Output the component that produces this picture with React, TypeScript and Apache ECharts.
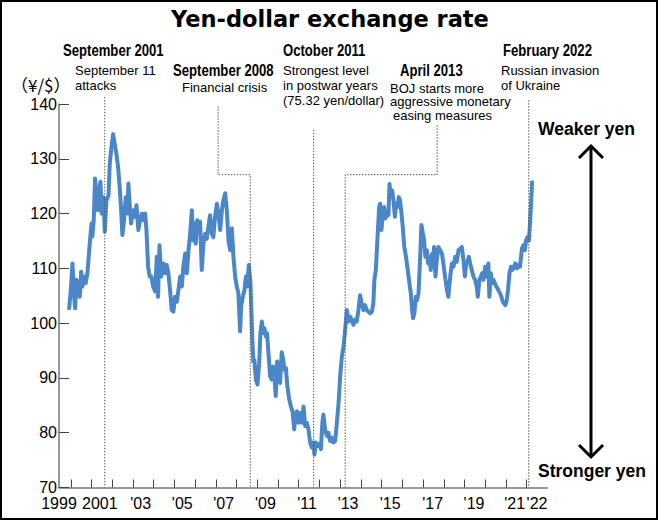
import React, { useEffect, useRef } from "react";
import * as echarts from "echarts";

// ---- Data ----
const years: number[] = [
  1999.92, 2000.0, 2000.08, 2000.16, 2000.21, 2000.27, 2000.35, 2000.43, 2000.5, 2000.56, 2000.64, 2000.72, 2000.8, 2000.85, 2000.93,
  2001.0, 2001.04, 2001.11, 2001.17, 2001.24, 2001.3, 2001.37, 2001.43, 2001.49, 2001.57, 2001.64, 2001.72, 2001.82, 2001.88, 2001.96,
  2002.04, 2002.12, 2002.2, 2002.28, 2002.36, 2002.43, 2002.49, 2002.57, 2002.65, 2002.73, 2002.78, 2002.85, 2002.91,
  2003.01, 2003.09, 2003.17, 2003.26, 2003.34, 2003.43, 2003.51, 2003.59, 2003.65, 2003.73, 2003.81, 2003.89, 2003.97,
  2004.07, 2004.15, 2004.21, 2004.28, 2004.36, 2004.47, 2004.55, 2004.63, 2004.71, 2004.79, 2004.87, 2004.95,
  2005.03, 2005.12, 2005.19, 2005.28, 2005.36, 2005.43, 2005.52, 2005.6, 2005.68, 2005.76, 2005.84, 2005.9, 2005.97,
  2006.03, 2006.1, 2006.16, 2006.24, 2006.32, 2006.4, 2006.48, 2006.56, 2006.64, 2006.72, 2006.81, 2006.88, 2006.96,
  2007.05, 2007.12, 2007.21, 2007.29, 2007.36, 2007.45, 2007.53, 2007.61, 2007.69, 2007.77, 2007.85, 2007.93,
  2008.01, 2008.09, 2008.17, 2008.22, 2008.3, 2008.38, 2008.45, 2008.51, 2008.59, 2008.67, 2008.7, 2008.76, 2008.81, 2008.86, 2008.93,
  2009.01, 2009.09, 2009.15, 2009.22, 2009.28, 2009.34, 2009.41, 2009.47, 2009.54, 2009.62, 2009.7, 2009.76, 2009.83, 2009.89, 2009.96,
  2010.02, 2010.1, 2010.18, 2010.25, 2010.31, 2010.38, 2010.45, 2010.54, 2010.62, 2010.7, 2010.78, 2010.83, 2010.91, 2010.98,
  2011.07, 2011.15, 2011.23, 2011.31, 2011.39, 2011.47, 2011.55, 2011.63, 2011.71, 2011.76, 2011.82, 2011.9, 2011.98,
  2012.07, 2012.14, 2012.19, 2012.27, 2012.36, 2012.43, 2012.51, 2012.6, 2012.67, 2012.76, 2012.84, 2012.92,
  2013.0, 2013.08, 2013.16, 2013.24, 2013.32, 2013.4, 2013.48, 2013.56, 2013.64, 2013.72, 2013.8, 2013.88, 2013.96,
  2014.04, 2014.12, 2014.2, 2014.28, 2014.36, 2014.45, 2014.53, 2014.6, 2014.65, 2014.72, 2014.77, 2014.82, 2014.88, 2014.93, 2014.99,
  2015.06, 2015.12, 2015.18, 2015.27, 2015.33, 2015.38, 2015.44, 2015.51, 2015.57, 2015.64, 2015.7, 2015.76, 2015.83, 2015.89, 2015.96,
  2016.02, 2016.09, 2016.15, 2016.22, 2016.28, 2016.34, 2016.41, 2016.47, 2016.52, 2016.58, 2016.65, 2016.71, 2016.78, 2016.86, 2016.92, 2016.99,
  2017.05, 2017.11, 2017.18, 2017.24, 2017.31, 2017.37, 2017.44, 2017.5, 2017.53, 2017.6, 2017.66, 2017.74, 2017.82, 2017.91, 2017.98,
  2018.06, 2018.15, 2018.22, 2018.31, 2018.39, 2018.47, 2018.55, 2018.63, 2018.71, 2018.79, 2018.87, 2018.95,
  2019.02, 2019.08, 2019.14, 2019.21, 2019.27, 2019.35, 2019.43, 2019.51, 2019.59, 2019.64, 2019.72, 2019.79, 2019.85, 2019.91,
  2020.0, 2020.04, 2020.11, 2020.15, 2020.2, 2020.27, 2020.33, 2020.4, 2020.46, 2020.53, 2020.59, 2020.66, 2020.72, 2020.78, 2020.85, 2020.91, 2020.97,
  2021.04, 2021.1, 2021.17, 2021.24, 2021.3, 2021.36, 2021.45, 2021.53, 2021.6, 2021.68, 2021.77, 2021.84, 2021.91, 2021.97,
  2022.04, 2022.11, 2022.17, 2022.22, 2022.26,
];

const rates: number[] = [
  102.7, 106, 110.9, 104.8, 102.7, 107.9, 106.7, 104.8, 109.4, 106.7, 108.5, 107.3, 109.1, 111.5, 115.2,
  118.2, 115.8, 119.1, 126.4, 123, 120.6, 124.2, 125.8, 120, 123, 116.7, 122.4, 123.3, 129.1, 132.1,
  134.5, 132.7, 130.9, 128.5, 124.8, 120.6, 116.1, 118.8, 123, 120, 125.5, 121.2, 118.2,
  120.6, 119.4, 121.5, 117, 118.8, 120, 118.8, 120, 117, 110.3, 108.5, 108.5, 106.7,
  105.8, 112.1, 104.8, 114.2, 108.5, 110.9, 109.1, 110.6, 109.1, 106.0, 102.4, 102.1,
  104.8, 103.9, 106.0, 108.5, 106.7, 110.3, 112.7, 109.1, 113.3, 116.3, 120.6, 115.1, 118.2,
  114.5, 118.8, 117, 118.5, 109.7, 114.5, 116.3, 115.4, 117.6, 119.7, 116.3, 115.7, 119.4,
  121.8, 120, 117, 120.6, 122.4, 123.7, 120.6, 115.1, 113.3, 117.3, 112.1, 108.5,
  106.7, 105.4, 98.5, 103, 104.8, 106, 108.5, 106.7, 110.6, 107.3, 104, 97, 93, 93.3, 89.7,
  88.8, 92.7, 98.2, 100.3, 98.2, 99.1, 97.6, 98.2, 94.5, 90.3, 89.7, 92.1, 90, 86.7, 93,
  89.7, 89.1, 94.7, 93.3, 91.5, 91.8, 88.5, 86.1, 84.8, 83.9, 80.6, 83, 83.9, 81.8,
  83.6, 81.8, 84.8, 81.2, 81.8, 80.6, 78.2, 77.3, 78.2, 76.0, 78.2, 77.6, 77.9,
  77, 81.8, 83.3, 80.6, 79.4, 80, 78.5, 79.1, 78.2, 78.5, 81.8, 85.4,
  90.3, 93.9, 95.7, 98.8, 102.4, 100.3, 101.2, 100.6, 99.7, 100.6, 100.3, 102.4, 105.1,
  103.6, 102.4, 103.3, 102.4, 102.1, 101.8, 102.1, 103.6, 107.9, 109.7, 113.3, 117, 121.2, 121.8, 117,
  120, 121.2, 119.1, 120, 119.7, 125.4, 123, 124.2, 122.4, 119.4, 121.8, 121.2, 123, 122.4, 120,
  117.6, 114, 112.7, 110.9, 109.1, 107.3, 105.4, 102.4, 100.9, 101.8, 104.8, 104.2, 105.4, 112.1, 117.9, 116.4,
  115.1, 112.1, 113.3, 110.9, 112.1, 109.7, 112.7, 110.9, 113.9, 108.5, 111.5, 113.9, 113.3, 112.7, 110.9,
  108.5, 106.1, 104.8, 108.5, 110.9, 110.3, 112.1, 111.2, 113.3, 113.6, 113.9, 111.5,
  108.5, 110.9, 111.2, 112.1, 110.9, 109.7, 108.5, 107.9, 106.7, 104.8, 107.9, 108.5, 109.1, 107.9,
  110.3, 108.5, 109.7, 110.9, 104.8, 109.1, 107.3, 107.9, 107.3, 106.7, 106.4, 105.8, 105.4, 104.8, 103.9, 103.6, 103.3,
  104.2, 106.1, 109.1, 110.3, 109.7, 110, 110.9, 110, 110.6, 110.3, 113.6, 114.2, 113.3, 115.1,
  115.7, 115.1, 118.8, 122.4, 125.7,
];

const yTicks = [70, 80, 90, 100, 110, 120, 130, 140];
const xTickYears = [
  2000, 2001, 2002, 2003, 2004, 2005, 2006, 2007, 2008, 2009, 2010, 2011,
  2012, 2013, 2014, 2015, 2016, 2017, 2018, 2019, 2020, 2021, 2022,
];
const xLabelPos = [1999.43, 2001.4, 2003.37, 2005.38, 2007.38, 2009.39, 2011.4, 2013.38, 2015.41, 2017.46, 2019.46, 2021.42, 2022.5];
const xLabelText = ["1999", "2001", "'03", "'05", "'07", "'09", "'11", "'13", "'15", "'17", "'19", "'21", "'22"];

// Event markers (year position, top value of dotted guide)
const eventSept2001 = [[2001.64, 141.3], [2001.64, 70]];
const eventSept2008 = [[2007.11, 139.6], [2007.11, 127.1], [2008.66, 127.1], [2008.66, 70]];
const eventOct2011 = [[2011.72, 135.3], [2011.72, 70]];
const eventApr2013 = [[2017.68, 136.1], [2017.68, 127.1], [2013.24, 127.1], [2013.24, 70]];
const eventFeb2022 = [[2022.1, 140.7], [2022.1, 70]];

const SANS = "'Liberation Sans', Arial, Helvetica, sans-serif";

function txt(
  text: string,
  x: number,
  y: number,
  size: number,
  bold: boolean,
  family: string,
  align = "left",
  scaleX = 1
) {
  return {
    type: "text",
    x,
    y,
    scaleX,
    silent: true,
    style: {
      text,
      fill: "#000",
      fontSize: size,
      fontWeight: bold ? "bold" : "normal",
      fontFamily: family,
      align,
      verticalAlign: "middle",
    },
  };
}
// narrow bold heading (Arial Narrow look)
const head = (text: string, x: number, y: number) => txt(text, x, y, 16, true, SANS, "left", 0.82);
const note = (text: string, x: number, y: number) => txt(text, x, y, 13, false, SANS, "left", 1);

export default function App() {
  const ref = useRef<HTMLDivElement>(null);

  useEffect(() => {
    if (!ref.current) return;
    const chart = echarts.init(ref.current, null, { renderer: "svg" });

    const lineData = years.map((y, i) => [y, rates[i]]);
    const guide = (data: number[][]) => ({
      type: "line",
      data,
      symbol: "none",
      silent: true,
      clip: false,
      z: 5,
      lineStyle: { color: "#555", width: 1, type: [1.5, 1.5] },
    });

    const option: any = {
      animation: false,
      backgroundColor: "#fff",
      grid: { left: 59, top: 104, width: 488.4, height: 383.5, containLabel: false },
      xAxis: {
        type: "value",
        min: 1999.43,
        max: 2023.0,
        axisLine: { show: true, lineStyle: { color: "#777", width: 1.5 } },
        axisTick: {
          show: true,
          inside: true,
          length: 8,
          customValues: xTickYears,
          lineStyle: { color: "#444", width: 1 },
        },
        axisLabel: {
          show: true,
          customValues: xLabelPos,
          showMinLabel: true,
          showMaxLabel: true,
          hideOverlap: false,
          margin: 7.5,
          lineHeight: 16,
          fontSize: 16,
          fontFamily: SANS,
          color: "#000",
          formatter: (v: number) => {
            let best = 0;
            for (let i = 1; i < xLabelPos.length; i++) {
              if (Math.abs(xLabelPos[i] - v) < Math.abs(xLabelPos[best] - v)) best = i;
            }
            return xLabelText[best];
          },
        },
        splitLine: { show: false },
      },
      yAxis: {
        type: "value",
        min: yTicks[0],
        max: yTicks[yTicks.length - 1],
        interval: 10,
        axisLine: { show: true, lineStyle: { color: "#777", width: 1.5 } },
        axisTick: { show: true, inside: true, length: 10, lineStyle: { color: "#444", width: 1 } },
        axisLabel: { margin: 2, fontSize: 16, lineHeight: 13, fontFamily: SANS, color: "#000" },
        splitLine: { show: false },
      },
      series: [
        {
          type: "line",
          data: lineData,
          symbol: "none",
          silent: true,
          z: 3,
          lineStyle: { color: "#4a86c8", width: 4, join: "round", cap: "round" },
        },
        guide(eventSept2001),
        guide(eventSept2008),
        guide(eventOct2011),
        guide(eventApr2013),
        guide(eventFeb2022),
      ],
      graphic: [
        {
          type: "rect",
          shape: { x: 1, y: 1, width: 656, height: 518 },
          style: { fill: "none", stroke: "#000", lineWidth: 2 },
          silent: true,
          z: 100,
        },
        txt("Yen-dollar exchange rate", 330, 19, 22.5, true, "'DejaVu Sans', sans-serif", "center"),
        head("September 2001", 63, 51),
        note("September 11", 75, 70),
        note("attacks", 75, 85),
        head("September 2008", 173, 71),
        note("Financial crisis", 182, 87),
        head("October 2011", 283, 51),
        note("Strongest level", 283, 70),
        note("in postwar years", 283, 85),
        note("(75.32 yen/dollar)", 283, 100),
        head("April 2013", 400, 71),
        note("BOJ starts more", 390, 88),
        note("aggressive monetary", 390, 101.5),
        note("easing measures", 393, 115),
        head("February 2022", 503, 51),
        note("Russian invasion", 501, 70),
        note("of Ukraine", 501, 85),
        txt("（¥/$）", 11, 84, 17, false, "'Noto Sans CJK JP', sans-serif"),
        txt("Weaker yen", 538, 129, 17.5, true, SANS),
        txt("Stronger yen", 538, 471, 17.5, true, SANS),
        {
          type: "line",
          shape: { x1: 591, y1: 147, x2: 591, y2: 456 },
          style: { stroke: "#000", lineWidth: 3 },
          silent: true,
        },
        {
          type: "polyline",
          shape: { points: [[579, 158], [591, 146], [603, 158]] },
          style: { stroke: "#000", lineWidth: 3, fill: "none" },
          silent: true,
        },
        {
          type: "polyline",
          shape: { points: [[579, 445], [591, 457], [603, 445]] },
          style: { stroke: "#000", lineWidth: 3, fill: "none" },
          silent: true,
        },
      ],
    };

    chart.setOption(option);
    return () => chart.dispose();
  }, []);

  return (
    <div
      ref={ref}
      style={{ position: "absolute", left: 0, top: 0, width: 660, height: 521, background: "#fff" }}
    />
  );
}
